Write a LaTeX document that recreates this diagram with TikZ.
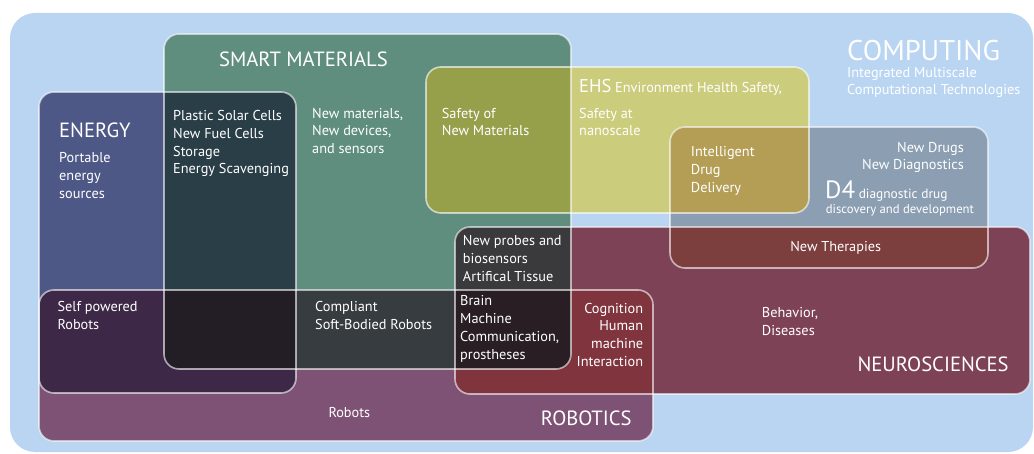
\documentclass[tikz,border=0pt]{standalone}
\usepackage{fontspec}
\setmainfont{PT Sans}
\definecolor{cBlue}{RGB}{185,213,242}
\definecolor{cGreen}{RGB}{95,142,126}
\definecolor{cEnergy}{RGB}{78,88,135}
\definecolor{cRob}{RGB}{126,82,117}
\definecolor{cEHS}{RGB}{204,204,125}
\definecolor{cDfour}{RGB}{140,158,178}
\definecolor{cNeuro}{RGB}{126,66,86}
\definecolor{cGE}{RGB}{42,62,72}
\definecolor{cER}{RGB}{62,40,72}
\definecolor{cGR}{RGB}{55,60,65}
\definecolor{cGER}{RGB}{35,30,38}
\definecolor{cGEHS}{RGB}{150,160,75}
\definecolor{cDE}{RGB}{180,158,85}
\definecolor{cND}{RGB}{125,62,62}
\definecolor{cGN}{RGB}{58,58,60}
\definecolor{cGNR}{RGB}{40,30,35}
\definecolor{cNR}{RGB}{128,52,62}
\newcommand\tl[1]{\begin{tabular}[t]{@{}l@{}}#1\end{tabular}}
\newcommand\tr[1]{\begin{tabular}[t]{@{}r@{}}#1\end{tabular}}
\def\pBlue{(10,13) rectangle (1033,452)}
\def\pGreen{(164,34) rectangle (571,369)}
\def\pEnergy{(39,92) rectangle (296,393)}
\def\pRob{(39,290) rectangle (653,441)}
\def\pEHS{(426,67) rectangle (809,213)}
\def\pDfour{(670,127) rectangle (988,268)}
\def\pNeuro{(455,227) rectangle (1030,394)}
\tikzset{
  box/.style={rounded corners=15pt},
  edge/.style={draw=white, draw opacity=0.6, line width=1.6pt, rounded corners=15pt},
  txt/.style={text=white, inner sep=0pt, font=\fontsize{14.3}{17.7}\selectfont},
  head/.style={text=white, inner sep=0pt, font=\fontsize{20.6}{22}\selectfont},
}
\begin{document}
\begin{tikzpicture}[x=1pt,y=-1pt]
\useasboundingbox (0,0) rectangle (1034,454);
\fill[white] (0,0) rectangle (1034,454);
\fill[cBlue, rounded corners=25pt] \pBlue;
\fill[cGreen, box] \pGreen;
\fill[cEnergy, box] \pEnergy;
\fill[cRob, box] \pRob;
\fill[cEHS, box] \pEHS;
\fill[cDfour, box] \pDfour;
\fill[cNeuro, box] \pNeuro;
\begin{scope}\clip[box] \pEnergy; \fill[cER, box] \pRob; \end{scope}
\begin{scope}\clip[box] \pNeuro; \fill[cNR, box] \pRob; \fill[cND, box] \pDfour; \end{scope}
\begin{scope}\clip[box] \pDfour; \fill[cDE, box] \pEHS; \end{scope}
\begin{scope}\clip[box] \pGreen;
  \fill[cGE, box] \pEnergy; \fill[cGR, box] \pRob; \fill[cGEHS, box] \pEHS; \fill[cGN, box] \pNeuro;
  \begin{scope}\clip[box] \pRob; \fill[cGER, box] \pEnergy; \fill[cGNR, box] \pNeuro; \end{scope}
\end{scope}
\draw[edge] \pGreen; \draw[edge] \pEnergy; \draw[edge] \pRob; \draw[edge] \pEHS;
\draw[edge] \pDfour; \draw[edge] \pNeuro;
% texts
\node[head, anchor=base west] (smart) at (219,66.7) {SMART MATERIALS};
\node[head, anchor=base west] (energyT) at (59,137.7) {ENERGY};
\node[txt, anchor=base west] (portable) at (59,163) {\tl{Portable\\energy\\sources}};
\node[txt, anchor=base west] (plastic) at (173,120.7) {\tl{Plastic Solar Cells\\New Fuel Cells\\Storage\\Energy Scavenging}};
\node[txt, anchor=base west] (newmat) at (312,118.3) {\tl{New materials,\\New devices,\\and sensors}};
\node[txt, anchor=base west] (safetyNM) at (441.7,118.3) {\tl{Safety of\\New Materials}};
\node[txt, anchor=base west] (ehs) at (579,92.7) {{\fontsize{18.5}{18}\selectfont EHS} Environment Health Safety,};
\node[txt, anchor=base west] (safetyNano) at (579,118.3) {\tl{Safety at\\nanoscale}};
\node[text=white, inner sep=0pt, font=\fontsize{28.5}{30}\selectfont, anchor=base west] (computing) at (847,60.7) {COMPUTING};
\node[txt, anchor=base west] (integ) at (847,77.3) {\tl{Integrated Multiscale\\Computational Technologies}};
\node[txt, anchor=base west] (intel) at (690.7,156.7) {\tl{Intelligent\\Drug\\Delivery}};
\node[txt, anchor=base east] (newdrugs) at (964,152.3) {\tr{New Drugs\\New Diagnostics}};
\node[txt, anchor=base west, font=\fontsize{13.4}{17}\selectfont] (d4) at (825,199) {{\fontsize{25}{25}\selectfont D4} diagnostic drug};
\node[txt, anchor=base west, font=\fontsize{12.7}{14}\selectfont] (d4b) at (825.7,213.3) {discovery and development};
\node[txt, anchor=base] (therap) at (835.7,251.7) {New Therapies};
\node[txt, anchor=base west] (behavior) at (761.7,317.7) {\tl{Behavior,\\Diseases}};
\node[head, anchor=base west] (neuroT) at (857.3,371.7) {NEUROSCIENCES};
\node[txt, anchor=base west] (probes) at (462.7,245.7) {\tl{New probes and\\biosensors\\Artifical Tissue}};
\node[txt, anchor=base west] (brain) at (460,306) {\tl{Brain\\Machine\\Communication,\\prostheses}};
\node[txt, anchor=base east] (cognition) at (643.3,313.3) {\tr{Cognition\\Human\\machine\\Interaction}};
\node[txt, anchor=base west] (compliant) at (315,311.7) {\tl{Compliant\\Soft-Bodied Robots}};
\node[txt, anchor=base west] (selfpow) at (57.3,311.7) {\tl{Self powered\\Robots}};
\node[txt, anchor=base west] (robots) at (328.3,417.3) {Robots};
\node[head, anchor=base west] (roboticsT) at (540.7,425) {ROBOTICS};
\end{tikzpicture}
\end{document}
